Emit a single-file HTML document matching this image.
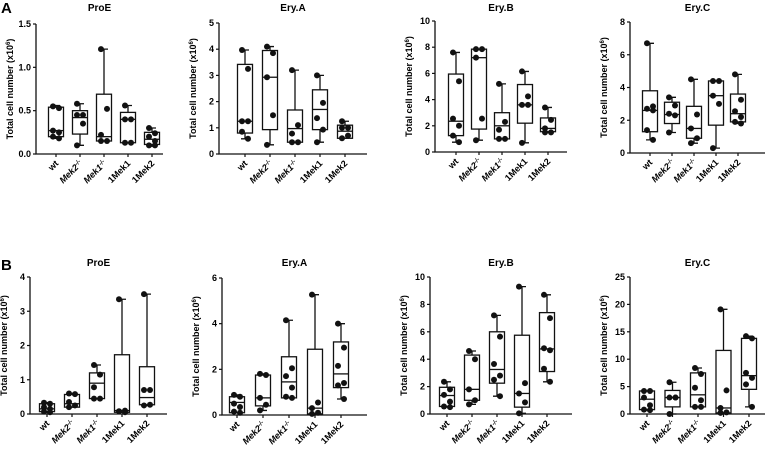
<!DOCTYPE html>
<html><head><meta charset="utf-8"><style>
html,body{margin:0;padding:0;background:#fff}
svg{display:block;font-family:"Liberation Sans",sans-serif}
</style></head><body>
<svg id="fig" width="770" height="456" viewBox="0 0 770 456" xmlns="http://www.w3.org/2000/svg">
<text x="1" y="13" font-size="15" font-weight="bold">A</text>
<text x="1" y="270" font-size="15" font-weight="bold">B</text>
</svg>
<script>
const categories = ["wt","Mek2","Mek1","1Mek1","1Mek2"];
const catSup = ["","-/-","-/-","",""];
const panelTitles = ["ProE","Ery.A","Ery.B","Ery.C","ProE","Ery.A","Ery.B","Ery.C"];
const yMaxes = [1.5,5,10,8,4,6,10,25];
const yTicks0 = ["0.0","0.5","1.0","1.5"];
const yTicks1 = [0,1,2,3,4,5];
const yTicks2 = [0,2,4,6,8,10];
const yTicks3 = [0,2,4,6,8];
const yTicks4 = [0,1,2,3,4];
const yTicks5 = [0,2,4,6];
const yTicks6 = [0,2,4,6,8,10];
const yTicks7 = [0,5,10,15,20,25];

// Panel A ProE
const aProeMin=[.18,.1,.15,.13,.09], aProeQ1=[.2,.23,.15,.13,.11], aProeMed=[.27,.42,.2,.4,.17], aProeQ3=[.54,.5,.69,.48,.25], aProeMax=[.56,.58,1.21,.56,.3];
const aProePts=[[.55,.53,.27,.25,.2,.18],[.58,.45,.45,.35,.1],[1.21,.52,.22,.15,.15],[.56,.4,.4,.13,.13],[.3,.24,.2,.15,.1,.1]];
// Panel A Ery.A
const aEryAMin=[.58,.35,.45,.45,.6], aEryAQ1=[.8,.93,.45,.93,.6], aEryAMed=[1.25,2.93,.97,1.7,.87], aEryAQ3=[3.42,3.95,1.68,2.45,1.1], aEryAMax=[3.97,4.1,3.2,3.0,1.25];
const aEryAPts=[[3.97,3.25,1.25,1.25,.85,.58],[4.1,3.85,2.93,1.48,.35],[3.2,1.1,.78,.45,.45],[3.0,1.95,1.37,.93,.45],[1.25,1.0,1.0,.7,.6]];
// Panel A Ery.B
const aEryBMin=[.75,.9,1.0,.7,1.5], aEryBQ1=[1.25,1.75,1.0,2.2,1.55], aEryBMed=[2.35,7.2,2.0,3.6,1.8], aEryBQ3=[5.95,7.85,3.0,5.15,2.6], aEryBMax=[7.6,7.85,5.2,6.15,3.4];
const aEryBPts=[[7.6,5.4,2.55,2.0,1.25,.75],[7.85,7.85,7.2,2.55,.9],[5.2,2.3,1.7,1.0,1.0],[6.15,4.25,3.6,3.6,.7],[3.4,2.45,1.8,1.5,1.5]];
// Panel A Ery.C
const aEryCMin=[.8,1.25,.6,.3,1.8], aEryCQ1=[1.3,1.8,.9,1.7,1.9], aEryCMed=[2.6,2.35,1.5,3.5,2.4], aEryCQ3=[3.8,3.1,2.85,4.4,3.6], aEryCMax=[6.7,3.4,4.5,4.4,4.8];
const aEryCPts=[[6.7,2.85,2.7,2.6,1.4,.8],[3.4,2.9,2.4,2.3,1.25],[4.5,2.35,1.5,.9,.6],[4.4,4.4,3.5,3.0,.3],[4.8,3.25,2.55,2.2,1.9,1.8]];
// Panel B ProE
const bProeMin=[.05,.2,.45,.05,.25], bProeQ1=[.07,.2,.45,.05,.27], bProeMed=[.15,.3,.9,.1,.48], bProeQ3=[.3,.57,1.2,1.73,1.38], bProeMax=[.33,.6,1.43,3.35,3.5];
const bProePts=[[.33,.3,.2,.15,.07,.05],[.6,.58,.35,.25,.2],[1.43,1.15,.78,.45,.45],[3.35,.1,.08,.05],[3.5,.7,.7,.27,.25]];
// Panel B Ery.A
const bEryAMin=[.1,.2,.75,.05,.7], bEryAQ1=[.1,.4,.75,.05,1.2], bEryAMed=[.55,.75,1.45,.3,1.8], bEryAQ3=[.8,1.75,2.55,2.88,3.2], bEryAMax=[.88,1.8,4.15,5.27,4.0];
const bEryAPts=[[.88,.8,.5,.35,.15,.1],[1.8,1.75,.75,.45,.2],[4.15,2.05,1.7,1.2,.8,.75],[5.27,.55,.3,.1,.05],[4.0,2.95,2.15,1.4,1.3,.7]];
// Panel B Ery.B
const bEryBMin=[.5,.7,1.3,.05,2.35], bEryBQ1=[.55,1.0,2.25,.5,3.1], bEryBMed=[1.35,1.8,3.25,1.5,4.75], bEryBQ3=[1.95,4.3,6.0,5.75,7.4], bEryBMax=[2.35,4.6,7.2,9.3,8.7];
const bEryBPts=[[2.35,1.8,1.4,.9,.55,.5],[4.6,4.0,1.8,1.0,.7],[7.2,5.65,3.65,2.8,2.5,1.3],[9.3,2.25,1.5,.85,.05],[8.7,7.0,4.8,4.65,3.3,2.35]];
// Panel B Ery.C
const bEryCMin=[.7,0,1.3,.2,1.3], bEryCQ1=[.8,1.3,1.3,.2,4.5], bEryCMed=[2.7,3.0,3.5,1.1,7.0], bEryCQ3=[4.2,4.3,7.5,11.6,13.8], bEryCMax=[4.2,5.8,8.4,19.1,14.2];
const bEryCPts=[[4.2,4.2,3.0,1.6,.8,.7],[5.8,3.0,3.0,3.0,0],[8.4,7.3,4.8,2.5,1.3,1.3],[19.1,4.3,1.1,.3,.2],[14.2,13.8,7.5,6.6,5.4,1.3]];

const panelData = [
 [aProeMin,aProeQ1,aProeMed,aProeQ3,aProeMax,aProePts,yTicks0],
 [aEryAMin,aEryAQ1,aEryAMed,aEryAQ3,aEryAMax,aEryAPts,yTicks1],
 [aEryBMin,aEryBQ1,aEryBMed,aEryBQ3,aEryBMax,aEryBPts,yTicks2],
 [aEryCMin,aEryCQ1,aEryCMed,aEryCQ3,aEryCMax,aEryCPts,yTicks3],
 [bProeMin,bProeQ1,bProeMed,bProeQ3,bProeMax,bProePts,yTicks4],
 [bEryAMin,bEryAQ1,bEryAMed,bEryAQ3,bEryAMax,bEryAPts,yTicks5],
 [bEryBMin,bEryBQ1,bEryBMed,bEryBQ3,bEryBMax,bEryBPts,yTicks6],
 [bEryCMin,bEryCQ1,bEryCMed,bEryCQ3,bEryCMax,bEryCPts,yTicks7]
];
const layout = [
 [24,154,36,163,56,24],[23,154,219,367,245,25],[21,152,435,567,456,23],[22,153,630,765,650,22],
 [277,414,30,167,47,25],[278,415,222,367,237,26],[277,414,430,572,447,25],[277,414,630,765,647,25.5]
];
const NS="http://www.w3.org/2000/svg";
const svg=document.getElementById('fig');
function mk(tag,attrs,parent){const e=document.createElementNS(NS,tag);for(const k in attrs)e.setAttribute(k,attrs[k]);(parent||svg).appendChild(e);return e;}

panelData.forEach((pd,p)=>{
  const [top,y0,L,R,fx,st]=layout[p];
  const ymax=yMaxes[p];
  const ys=v=>y0-(v/ymax)*(y0-top);
  const xs=i=>fx+i*st;
  const g=mk('g',{});
  
  
  const t=mk('text',{x:(L+R)/2,y:(p<4?11:266),'font-size':10,'font-weight':'bold','text-anchor':'middle'},g);
  t.textContent=panelTitles[p];
  
  
  const yt=mk('text',{x:0,y:0,'font-size':9,'font-weight':'bold','text-anchor':'middle',transform:`translate(${L-23},${(top+y0)/2}) rotate(-90)`},g);
  yt.innerHTML='Total cell number (x10<tspan dy="-3" font-size="6">6</tspan><tspan dy="3">)</tspan>';
  
  
  const ax=mk('path',{d:`M${L} ${top}V${y0}H${R}`,stroke:'#111','stroke-width':1.3,fill:'none'},g);
  
  
  const ticks=pd[6];
  ticks.forEach(tv=>{
    const v=parseFloat(tv);
    mk('line',{x1:L-3,x2:L,y1:ys(v),y2:ys(v),stroke:'#111','stroke-width':1.2},g);
    const tl=mk('text',{x:L-5,y:ys(v)+3,'font-size':9,'font-weight':'bold','text-anchor':'end'},g);
    tl.textContent=tv;
    
    
  });
  categories.forEach((c,i)=>{
    const x=xs(i);
    mk('line',{x1:x,x2:x,y1:y0,y2:y0+3,stroke:'#111','stroke-width':1.2},g);
    const lbl=mk('text',{x:0,y:0,'font-size':9,'font-weight':'bold','font-style':(c.startsWith('Mek')?'italic':'normal'),'text-anchor':'end',transform:`translate(${x+3},${y0+10}) rotate(-45)`},g);
    lbl.innerHTML=c+(catSup[i]?`<tspan dy="-3" font-size="6">${catSup[i]}</tspan>`:'');
    
    
    const bw=15;
    const wh=mk('path',{d:`M${x} ${ys(pd[4][i])}V${ys(pd[3][i])}M${x} ${ys(pd[1][i])}V${ys(pd[0][i])}M${x-4} ${ys(pd[4][i])}H${x+4}M${x-4} ${ys(pd[0][i])}H${x+4}`,stroke:'#111','stroke-width':1.3,fill:'none'},g);
    
    
    const bx=mk('rect',{x:x-bw/2,y:ys(pd[3][i]),width:bw,height:Math.max(0.5,ys(pd[1][i])-ys(pd[3][i])),fill:'none',stroke:'#111','stroke-width':1.3},g);
    
    
    const md=mk('line',{x1:x-bw/2,x2:x+bw/2,y1:ys(pd[2][i]),y2:ys(pd[2][i]),stroke:'#111','stroke-width':1.3},g);
    
    
    const pts=pd[5][i];
    pts.forEach((v,k)=>{
      const off=pts.length>1?((k%2)?3:-3):0;
      const pt=mk('circle',{cx:x+off,cy:ys(v),r:3,fill:'#111'},g);
      
      
    });
  });
});
</script>
</body></html>
